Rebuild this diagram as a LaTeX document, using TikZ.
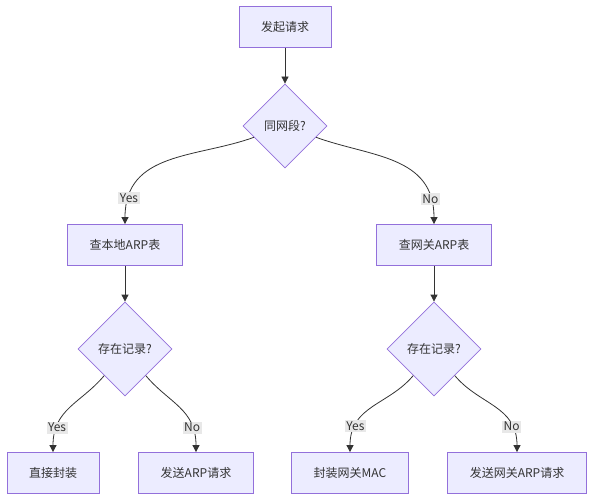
\documentclass[tikz,border=0pt]{standalone}
\usepackage{fontspec}
\setmainfont{Noto Sans CJK SC}
\usetikzlibrary{shapes,arrows.meta}
\definecolor{boxfill}{HTML}{ECECFF}
\definecolor{boxline}{HTML}{9370DB}
\definecolor{edgeline}{HTML}{333333}
\definecolor{lblfill}{HTML}{E8E8E8}
\tikzstyle{block} = [rectangle, draw=boxline, fill=boxfill, line width=0.8pt,
minimum height=41pt, inner xsep=22pt, text=black!80, font=\fontsize{12}{14}\selectfont]
\tikzstyle{decision} = [diamond, draw=boxline, fill=boxfill, line width=0.8pt,
aspect=1, inner sep=0pt, text=black!80, font=\fontsize{12}{14}\selectfont]
\tikzstyle{line} = [draw=edgeline, line width=0.8pt, -{Triangle[length=7pt,width=7pt]}]
\tikzstyle{lbl} = [fill=lblfill, inner sep=1.5pt, text=black!80, font=\fontsize{12}{14}\selectfont]

\begin{document}
\begin{tikzpicture}[x=1pt, y=1pt, node distance=99pt]
\useasboundingbox (0,0) rectangle (593,-500);
% Place nodes
\node [block] (req) at (285,-27) {发起请求};
\node [decision, minimum size=84pt, below of=req] (same) {同网段?};
\node [block, below of=same, node distance=119pt, xshift=-160pt] (local) {查本地ARP表};
\node [block, below of=same, node distance=119pt, xshift=149pt] (gw) {查网关ARP表};
\node [decision, minimum size=94pt, below of=local, node distance=104pt] (hitl) {存在记录?};
\node [decision, minimum size=94pt, below of=gw, node distance=104pt] (hitg) {存在记录?};
\node [block, below of=hitl, node distance=124pt, xshift=-72pt] (direct) {直接封装};
\node [block, below of=hitl, node distance=124pt, xshift=71pt] (arpl) {发送ARP请求};
\node [block, below of=hitg, node distance=124pt, xshift=-84pt] (mac) {封装网关MAC};
\node [block, below of=hitg, node distance=124pt, xshift=83pt] (arpg) {发送网关ARP请求};
% Draw edges
\path [line] (req) -- (same);
\path [line] (same.200) to[out=200, in=90, in looseness=1.2] node[lbl, pos=0.86] {Yes} (local.north);
\path [line] (same.-20) to[out=-20, in=90, in looseness=1.2] node[lbl, pos=0.86] {No} (gw.north);
\path [line] (local) -- (hitl);
\path [line] (gw) -- (hitg);
\path [line] (hitl.232) to[out=230, in=90, in looseness=1.2] node[lbl, pos=0.77] {Yes} (direct.north);
\path [line] (hitl.-52) to[out=-50, in=90, in looseness=1.2] node[lbl, pos=0.77] {No} (arpl.north);
\path [line] (hitg.232) to[out=230, in=90, in looseness=1.2] node[lbl, pos=0.77] {Yes} (mac.north);
\path [line] (hitg.-52) to[out=-50, in=90, in looseness=1.2] node[lbl, pos=0.77] {No} (arpg.north);
\end{tikzpicture}
\end{document}
